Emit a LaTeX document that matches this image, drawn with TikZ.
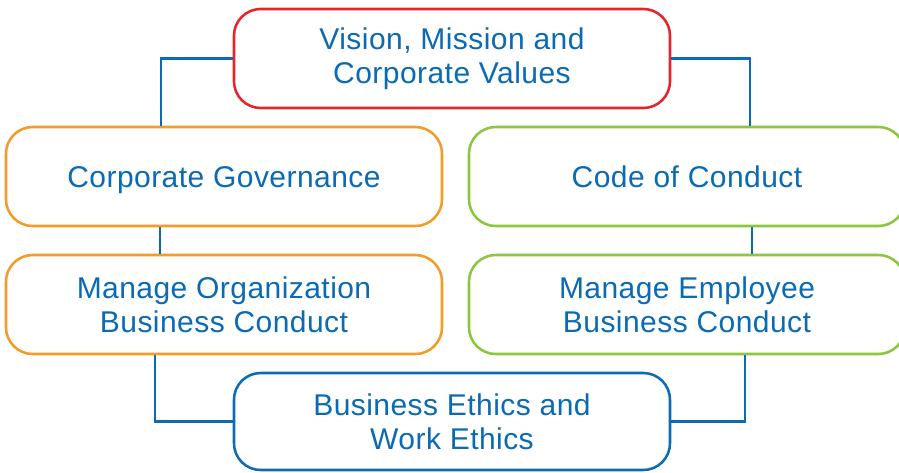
\documentclass[tikz,border=0pt]{standalone}
\usepackage{fontspec}
\setmainfont[LetterSpace=1.5]{Liberation Sans}
\definecolor{txtblue}{HTML}{0A6AB4}
\definecolor{boxred}{HTML}{E6242B}
\definecolor{boxorange}{HTML}{F49B29}
\definecolor{boxgreen}{HTML}{8CC63F}
\definecolor{lineblue}{HTML}{0B6BB5}
\begin{document}
\begin{tikzpicture}[x=0.75pt,y=-0.75pt,
  box/.style={draw, line width=1.9pt, rounded corners=20pt, fill=white,
    minimum width=327pt, minimum height=74.25pt, inner sep=0pt,
    align=center, text=txtblue, font=\fontsize{22.5pt}{25.5pt}\selectfont},
  oneline/.style={text height=16.1pt, text depth=0pt},
  conn/.style={draw=lineblue, line width=2pt}]
\useasboundingbox (0,0) rectangle (899,472);
\clip (0,0) rectangle (899,472);
\node[box, draw=boxred] (top) at (452,58.5) {Vision, Mission and\\Corporate Values};
\node[box, draw=boxorange, oneline] (gov) at (224,176.5) {Corporate Governance};
\node[box, draw=boxgreen, oneline] (code) at (687,176.5) {Code of Conduct};
\node[box, draw=boxorange] (org) at (224,304.5) {Manage Organization\\Business Conduct};
\node[box, draw=boxgreen] (emp) at (687,304.5) {Manage Employee\\Business Conduct};
\node[box, draw=lineblue, minimum height=72.75pt] (eth) at (452,421.5) {Business Ethics and\\Work Ethics};
\draw[conn] (top.west) -| ([xshift=-47.25pt]gov.north);
\draw[conn] (top.east) -| ([xshift=47.25pt]code.north);
\draw[conn] ([xshift=-48pt]gov.south) -- ([xshift=-48pt]org.north);
\draw[conn] ([xshift=48.75pt]code.south) -- ([xshift=48.75pt]emp.north);
\draw[conn] ([xshift=-51.75pt]org.south) |- (eth.west);
\draw[conn] ([xshift=43.5pt]emp.south) |- (eth.east);
\end{tikzpicture}
\end{document}
